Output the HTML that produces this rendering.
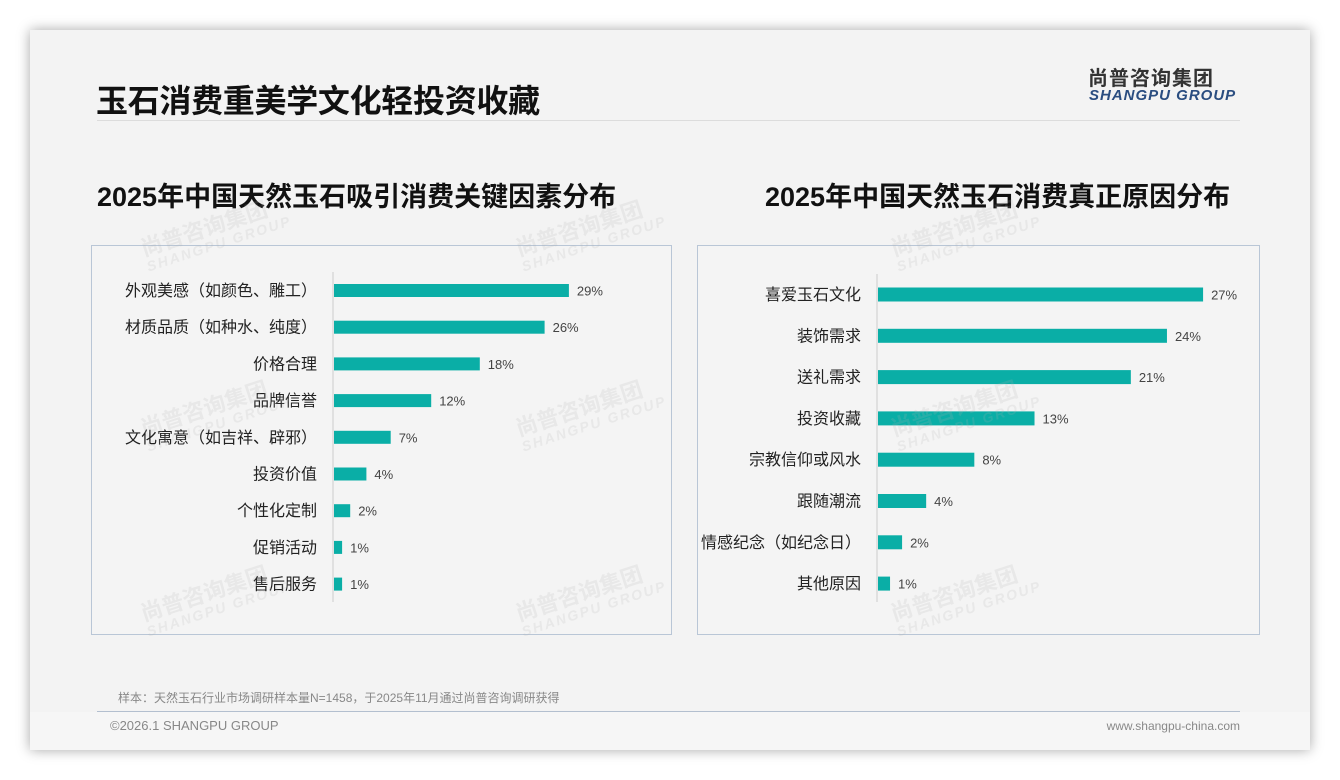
<!DOCTYPE html>
<html><head><meta charset="utf-8">
<style>
body{margin:0;width:1340px;height:780px;background:#fff;font-family:"Liberation Sans","Noto Sans CJK SC",sans-serif;position:relative;overflow:hidden}
#card{position:absolute;left:30px;top:30px;width:1280px;height:720px;background:#f3f3f3;box-shadow:0 0 12px rgba(0,0,0,.35)}
.abs{position:absolute}
.panel{position:absolute;border:1px solid #b9c6d6;background:#f4f4f4}
.wm{position:absolute;color:rgba(180,180,180,.18);font-weight:bold;transform:rotate(-18deg);line-height:1;white-space:nowrap}
.wm span{display:block;font-size:14px;font-style:italic;letter-spacing:2px}
</style></head><body>
<div id="card">
<div class="abs" style="left:66px;top:46px;font-size:32px;font-weight:bold;color:#111;letter-spacing:-0.3px">玉石消费重美学文化轻投资收藏</div>
<div class="abs" style="left:67px;top:90px;width:1143px;height:1px;background:#dcdcdc"></div>
<div class="abs" style="left:1058px;top:32px;font-size:20px;font-weight:bold;color:#333;letter-spacing:1px">尚普咨询集团</div>
<div class="abs" style="left:1059px;top:57px;font-size:15px;font-weight:bold;font-style:italic;color:#2a4d80;letter-spacing:1px">SHANGPU GROUP</div>
<div class="abs" style="left:67px;top:145px;font-size:27px;font-weight:bold;color:#111">2025年中国天然玉石吸引消费关键因素分布</div>
<div class="abs" style="left:735px;top:145px;font-size:27px;font-weight:bold;color:#111">2025年中国天然玉石消费真正原因分布</div>
<div class="abs" style="left:88px;top:659px;font-size:12px;color:#888">样本：天然玉石行业市场调研样本量N=1458，于2025年11月通过尚普咨询调研获得</div>
<div class="abs" style="left:0;top:682px;width:1280px;height:38px;background:#f6f6f6"></div>
<div class="abs" style="left:67px;top:681px;width:1143px;height:1px;background:#b3bfcf"></div>
<div class="abs" style="left:80px;top:688px;font-size:13px;color:#888">©2026.1 SHANGPU GROUP</div>
<div class="abs" style="right:70px;top:689px;font-size:12px;color:#888">www.shangpu-china.com</div>
</div>
<div class="panel" style="left:91px;top:245px;width:579px;height:388px"></div>
<div class="panel" style="left:697px;top:245px;width:561px;height:388px"></div>
<svg id="chart" width="1340" height="780" style="position:absolute;left:0;top:0"></svg>
<div id="wms"></div>
<script>
const leftCats=["外观美感（如颜色、雕工）","材质品质（如种水、纯度）","价格合理","品牌信誉","文化寓意（如吉祥、辟邪）","投资价值","个性化定制","促销活动","售后服务"];
const leftVals=[29,26,18,12,7,4,2,1,1];
const rightCats=["喜爱玉石文化","装饰需求","送礼需求","投资收藏","宗教信仰或风水","跟随潮流","情感纪念（如纪念日）","其他原因"];
const rightVals=[27,24,21,13,8,4,2,1];
const NS="http://www.w3.org/2000/svg";
const svg=document.getElementById('chart');
function mk(tag,attrs){const e=document.createElementNS(NS,tag);for(const k in attrs)e.setAttribute(k,attrs[k]);svg.appendChild(e);return e;}
function draw(cats,vals,x0,pxPer,y0,step,bh,axTop,axBot,prefix){
  const ax=mk('line',{x1:x0,x2:x0,y1:axTop,y2:axBot,stroke:'#ccc','stroke-width':1});
  
  
  cats.forEach((c,i)=>{
    const y=y0+i*step;const w=vals[i]*pxPer;
    const r=mk('rect',{x:x0+1,y:y-bh/2,width:w,height:bh,fill:'#0aaea6'});
    
    
    const t=mk('text',{x:x0-16,y:y+5.5,'text-anchor':'end','font-size':16,fill:'#222'});t.textContent=c;
    
    
    const v=mk('text',{x:x0+1+w+8,y:y+5,'font-size':13,fill:'#444'});v.textContent=vals[i]+'%';
    
    
  });
}
draw(leftCats,leftVals,333,8.1,290.5,36.7,13,272,602,'left');
draw(rightCats,rightVals,877,12.04,294.5,41.3,14,274,602,'right');
const wmPos=[[140,215],[515,215],[890,215],[140,395],[515,395],[890,395],[140,580],[515,580],[890,580]];
const wd=document.getElementById('wms');
wmPos.forEach(p=>{const d=document.createElement('div');d.className='wm';d.style.left=p[0]+'px';d.style.top=p[1]+'px';d.style.fontSize='22px';d.innerHTML='尚普咨询集团<span>SHANGPU GROUP</span>';


wd.appendChild(d);});
</script>
</body></html>
